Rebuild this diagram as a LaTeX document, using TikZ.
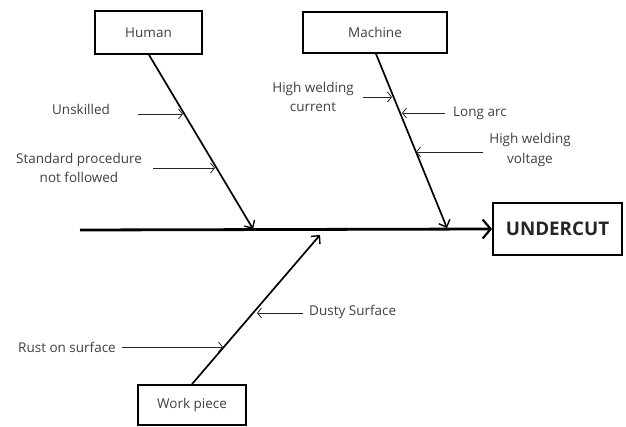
\documentclass[tikz,border=0pt]{standalone}
\usepackage{fontspec}
\setmainfont{Open Sans}
\usetikzlibrary{arrows.meta}
\begin{document}
\begin{tikzpicture}[x=1pt,y=-1pt,
  catbox/.style={draw=black,line width=1.8pt,fill=white,inner sep=0pt,
    font=\fontsize{13.5}{16}\selectfont,text=black!75},
  cause/.style={font=\fontsize{13.5}{19.5}\selectfont,text=black!75,align=center,inner sep=0pt},
  bone/.style={line width=1.7pt,-{Straight Barb[length=6pt,width=12pt,line width=1.4pt]}},
  twig/.style={line width=0.8pt,black!85,-{Straight Barb[length=4pt,width=10pt,line width=0.8pt]}}]
\useasboundingbox (0,0) rectangle (626,427);

% effect and categories
\node[catbox,minimum width=129pt,minimum height=52pt,font=\fontsize{18.8}{20}\selectfont\bfseries,text=black!85]
  (effect) at (557.5,229) {UNDERCUT};
\node[catbox,minimum width=107pt,minimum height=43pt] (human) at (148.5,32.5) {Human};
\node[catbox,minimum width=144pt,minimum height=41pt] (machine) at (375,32.5) {Machine};
\node[catbox,minimum width=108pt,minimum height=40pt] (work) at (192,405) {Work piece};

% spine
\coordinate (tail) at (80,230);
\draw[line width=2.8pt,-{Straight Barb[length=8pt,width=19pt,line width=2.2pt]}] (tail) -- (effect.west);

% main bones
\coordinate (hEnd) at (253,229);
\coordinate (mEnd) at (447,228);
\coordinate (wEnd) at (320,235);
\draw[bone] ([xshift=0.5pt]human.south) -- (hEnd);
\draw[bone] ([xshift=1pt]machine.south) -- (mEnd);
\draw[bone] (work.north) -- (wEnd);

% causes: human
\node[cause] (unskilled) at (81,109) {Unskilled};
\node[cause] (procedure) at (79,168) {Standard procedure\\not followed};
\coordinate (u0) at (138,114); \coordinate (u1) at (183,114);
\coordinate (p0) at (153,168); \coordinate (p1) at (215,168);
\draw[twig] (u0) -- (u1);
\draw[twig] (p0) -- (p1);

% causes: machine
\node[cause] (current) at (313,97) {High welding\\current};
\node[cause,anchor=west] (arc) at (453,113) {Long arc};
\node[cause] (voltage) at (530,150) {High welding\\voltage};
\coordinate (c0) at (363,97); \coordinate (c1) at (392,97);
\coordinate (a0) at (445,113); \coordinate (a1) at (402,113);
\coordinate (v0) at (483,152); \coordinate (v1) at (416,152);
\draw[twig] (c0) -- (c1);
\draw[twig] (a0) -- (a1);
\draw[twig] (v0) -- (v1);

% causes: work piece
\node[cause,anchor=west] (dusty) at (309,312) {Dusty Surface};
\node[cause] (rust) at (67,347) {Rust on surface};
\coordinate (d0) at (303,313); \coordinate (d1) at (257,313);
\coordinate (r0) at (122,347); \coordinate (r1) at (223,347);
\draw[twig] (d0) -- (d1);
\draw[twig] (r0) -- (r1);
\end{tikzpicture}
\end{document}
